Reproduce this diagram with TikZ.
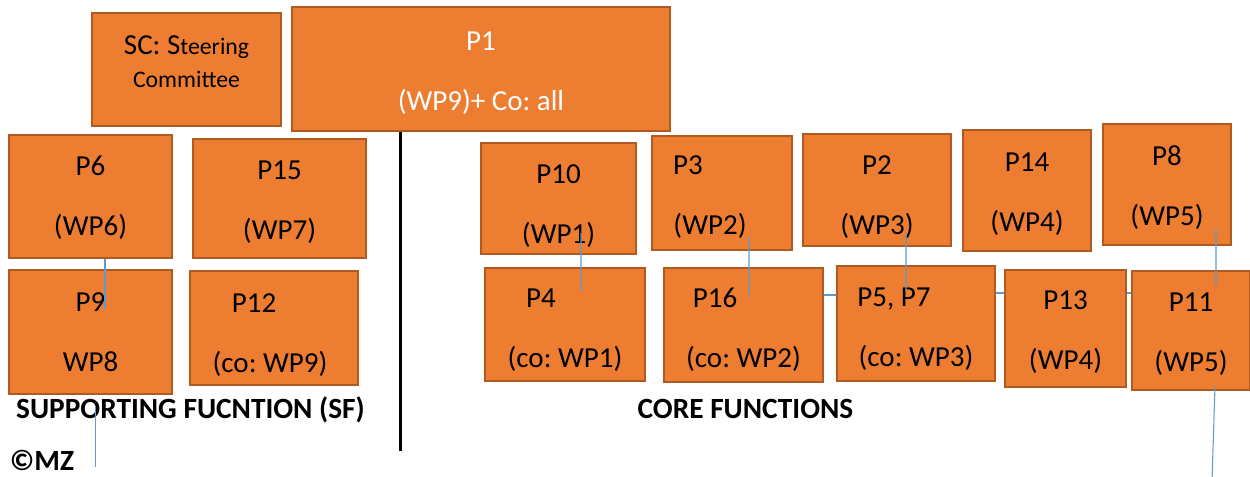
\documentclass[tikz,border=0pt]{standalone}
\usepackage{fontspec}
\setmainfont{Carlito}
\usetikzlibrary{calc}
\definecolor{boxfill}{HTML}{ED7D31}
\definecolor{boxline}{HTML}{AE5A21}
\definecolor{linkblue}{HTML}{5B9BD5}
\newcommand{\lift}[1]{\rule{0pt}{#1}}

\begin{document}
\frenchspacing
\begin{tikzpicture}[
  font=\fontsize{16.5}{34}\selectfont,
  block/.style={draw=boxline,line width=1.2pt,fill=boxfill,inner sep=0pt},
  link/.style={draw=linkblue,line width=0.6pt},
  spine/.style={draw=black,line width=2pt},
  heading/.style={font=\fontsize{16.7}{19}\selectfont\bfseries,inner sep=0pt,anchor=base},
  every node/.style={align=center}]

  \useasboundingbox (0,0) rectangle (25,-9.54);

  % Top row: steering committee and coordinator
  \node[block,minimum width=3.78cm,minimum height=2.26cm,font=\fontsize{13.5}{18.8}\selectfont] (SC) at (3.73,-1.39)
    {{\fontsize{16.5}{18.8}\selectfont SC: S}teering\\Committee\rule[-0.32cm]{0pt}{0pt}};
  \node[block,minimum width=7.56cm,minimum height=2.48cm,text=white] (P1) at (9.62,-1.38) {\lift{.53cm}P1\\(WP9)+ Co: all};

  % Supporting functions
  \node[block,minimum width=3.26cm,minimum height=2.46cm] (P6) at (1.81,-3.93) {\lift{.45cm}P6\\(WP6)};
  \node[block,minimum width=3.46cm,minimum height=2.38cm] (P15) at (5.59,-3.97) {\lift{.53cm}P15\\(WP7)};
  \node[block,minimum width=3.26cm,minimum height=2.48cm] (P9) at (1.81,-6.64) {P9\\WP8};
  \node[block,minimum width=3.36cm,minimum height=2.28cm] (P12) at (5.48,-6.56) {\lift{.65cm}P12\hspace*{0.8cm}\\(co: WP9)\hspace*{0.16cm}};

  % Core functions
  \node[block,minimum width=3.10cm,minimum height=2.22cm] (P10) at (11.17,-3.97) {\lift{.67cm}P10\\(WP1)};
  \node[block,minimum width=2.80cm,minimum height=2.28cm] (P3) at (14.44,-3.86) {\lift{.55cm}P3\hspace*{1.36cm}\\(WP2)\hspace*{0.48cm}};
  \node[block,minimum width=2.96cm,minimum height=2.24cm] (P2) at (17.54,-3.80) {\lift{.67cm}P2\\(WP3)};
  \node[block,minimum width=2.56cm,minimum height=2.42cm] (P14) at (20.54,-3.81) {\lift{.53cm}P14\\(WP4)};
  \node[block,minimum width=2.56cm,minimum height=2.42cm] (P8) at (23.34,-3.69) {\lift{.53cm}P8\\(WP5)};
  \node[block,minimum width=3.20cm,minimum height=2.26cm] (P4) at (11.30,-6.49) {\lift{.59cm}P4\hspace*{0.96cm}\\(co: WP1)};
  \node[block,minimum width=3.18cm,minimum height=2.28cm] (P16) at (14.87,-6.50) {\lift{.59cm}P16\hspace*{1.14cm}\\(co: WP2)};
  \node[block,minimum width=3.16cm,minimum height=2.30cm] (P57) at (18.32,-6.47) {\lift{.59cm}P5, P7\hspace*{0.88cm}\\(co: WP3)};
  \node[block,minimum width=2.42cm,minimum height=2.34cm] (P13) at (21.31,-6.57) {\lift{.53cm}P13\\(WP4)};
  \node[block,minimum width=2.36cm,minimum height=2.38cm] (P11) at (23.82,-6.61) {\lift{.51cm}P11\\(WP5)};

  % Captions
  \node[heading] (SF) at (3.81,-8.38) {SUPPORTING FUCNTION (SF)};
  \node[heading] (CF) at (14.91,-8.38) {CORE FUNCTIONS};
  \node[heading] (MZ) at (0.84,-9.42) {©MZ};

  % Divider between the two groups
  \coordinate (split) at (8.01,-9.02);
  \draw[spine] (P1.south -| split) -- (split);

  % Thin links
  \draw[link] ([xshift=.29cm]P6.south) -- ([xshift=.29cm,yshift=-.8cm]P9.north);
  \draw[link] ([xshift=.1cm,yshift=-.22cm]P9.south) -- ([xshift=.1cm,yshift=-1.44cm]P9.south);
  \draw[link] ([xshift=.45cm,yshift=.44cm]P10.south) -- ([xshift=.32cm,yshift=-.48cm]P4.north);
  \draw[link] ([xshift=.54cm,yshift=.28cm]P3.south) -- ([xshift=.11cm,yshift=-.58cm]P16.north);
  \draw[link] ([xshift=.58cm,yshift=.28cm]P2.south) -- ([xshift=-.2cm,yshift=-.52cm]P57.north);
  \draw[link] ([xshift=.98cm,yshift=.36cm]P8.south) -- ([xshift=.5cm,yshift=-.32cm]P11.north);
  \draw[link] ([xshift=.48cm,yshift=.1cm]P11.south) -- ([xshift=.42cm,yshift=-1.8cm]P11.south);
  \draw[link] ([yshift=.6cm]P16.east) -- ([yshift=.6cm]P16.east -| P57.west);
  \draw[link] ([yshift=.61cm]P57.east) -- ([yshift=.61cm]P57.east -| P13.west);
  \draw[link] ([yshift=.71cm]P13.east) -- ([yshift=.71cm]P13.east -| P11.west);
\end{tikzpicture}
\end{document}
